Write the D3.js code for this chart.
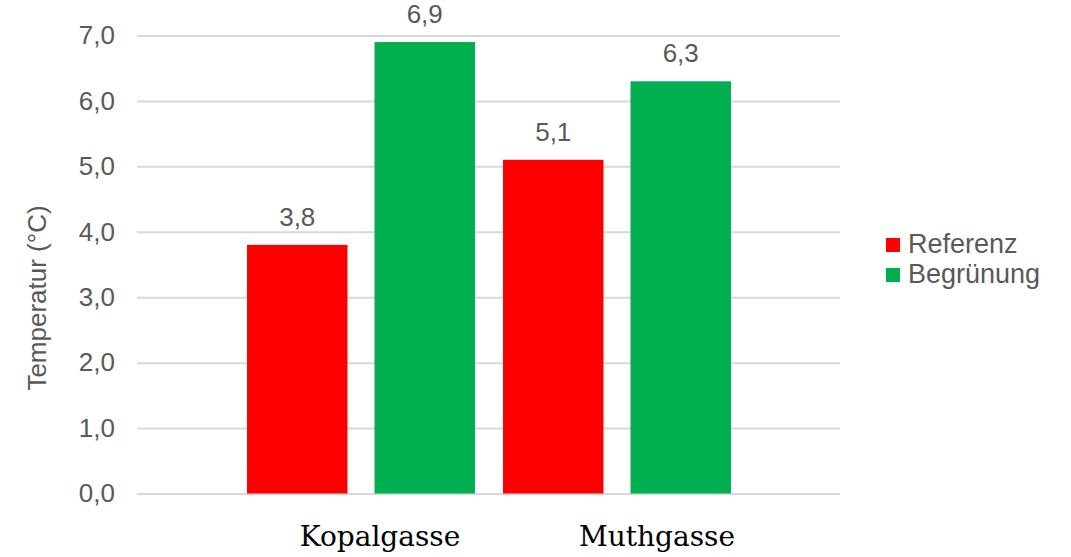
<!DOCTYPE html>
<html>
<head>
<meta charset="utf-8">
<script src="https://cdn.jsdelivr.net/npm/d3@7"></script>
<style>
  html, body { margin: 0; padding: 0; background: #fff; }
  svg { display: block; }
</style>
</head>
<body>
<svg id="chart" width="1071" height="557"></svg>
<script>
// Temperature per street, reference vs. green facade
const categories = ["Kopalgasse", "Muthgasse"];
const seriesNames = ["Referenz", "Begrünung"];
const referenzValues = [3.8, 5.1];
const begruenungValues = [6.9, 6.3];
const yTicks = [0, 1, 2, 3, 4, 5, 6, 7];
const seriesColors = ["#ff0000", "#00b050"];

const values = { "Referenz": referenzValues, "Begrünung": begruenungValues };
const fmt = v => d3.format(".1f")(v).replace(".", ",");

const svg = d3.select("#chart");
const sans = "Arial, 'Liberation Sans', sans-serif";
const textColor = "#595959";

const gridLeft = 137, gridRight = 840;
const y = d3.scaleLinear().domain([0, 7]).range([493.5, 35.5]);
const x0 = d3.scaleBand().domain(categories).range([233, 745]).paddingInner(0).paddingOuter(0);
const x1 = d3.scaleBand().domain(seriesNames).range([0, x0.bandwidth()])
  .paddingInner(0.212).paddingOuter(0.11);
const color = d3.scaleOrdinal().domain(seriesNames).range(seriesColors);

// Horizontal gridlines + value axis labels
const yAxis = d3.axisLeft(y).tickValues(yTicks).tickFormat(fmt)
  .tickSize(-(gridRight - gridLeft)).tickPadding(22);
const yg = svg.append("g").attr("transform", `translate(${gridLeft},0)`).call(yAxis);
yg.select(".domain").remove();
yg.selectAll(".tick line").attr("stroke", "#d9d9d9").attr("stroke-width", 2);
yg.selectAll(".tick text").attr("fill", textColor)
  .style("font-family", sans).style("font-size", "26px");

// Bars
const groups = svg.append("g").selectAll("g").data(categories).join("g")
  .attr("transform", d => `translate(${x0(d)},0)`);

const barData = (c, i) => seriesNames.map(s => ({ series: s, value: values[s][i] }));

groups.selectAll("rect").data((c, i) => barData(c, i)).join("rect")
  .attr("x", d => x1(d.series))
  .attr("width", x1.bandwidth())
  .attr("y", d => y(d.value))
  .attr("height", d => y(0) - y(d.value))
  .attr("fill", d => color(d.series));

// Value labels above bars
groups.selectAll("text").data((c, i) => barData(c, i)).join("text")
  .attr("x", d => x1(d.series) + x1.bandwidth() / 2)
  .attr("y", d => y(d.value) - 19)
  .attr("text-anchor", "middle")
  .attr("fill", textColor)
  .style("font-family", sans).style("font-size", "26px")
  .text(d => fmt(d.value));

// Category labels (serif, below the plot)
const labelShift = { "Kopalgasse": 19, "Muthgasse": 40 };
svg.append("g").selectAll("text").data(categories).join("text")
  .attr("x", d => x0(d) + x0.bandwidth() / 2 + labelShift[d])
  .attr("y", 546)
  .attr("text-anchor", "middle")
  .attr("fill", "#000")
  .style("font-family", "'DejaVu Serif', serif").style("font-size", "28px")
  .text(d => d);

// Y axis title
svg.append("text")
  .attr("transform", "translate(46,298) rotate(-90)")
  .attr("text-anchor", "middle")
  .attr("fill", textColor)
  .style("font-family", sans).style("font-size", "26px")
  .text("Temperatur (°C)");

// Legend
const legend = svg.append("g").attr("transform", "translate(886,238)");
const item = legend.selectAll("g").data(seriesNames).join("g")
  .attr("transform", (d, i) => `translate(0,${i * 30})`);
item.append("rect").attr("width", 14).attr("height", 14).attr("fill", d => color(d));
item.append("text").attr("x", 22).attr("y", 15)
  .attr("fill", textColor)
  .style("font-family", sans).style("font-size", "27px")
  .text(d => d);
</script>
</body>
</html>
